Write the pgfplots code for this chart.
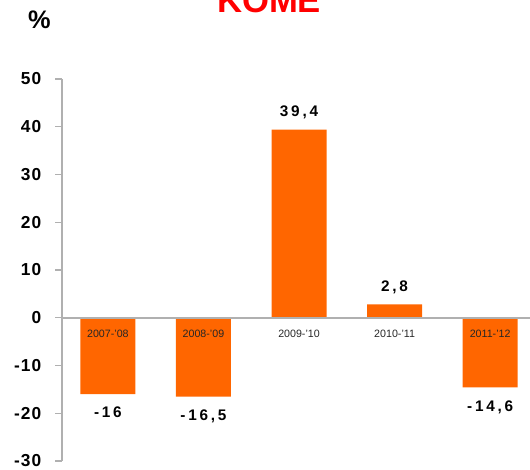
\documentclass[border=0pt]{standalone}
\usepackage{fontspec}
\setmainfont{Liberation Sans}
\newfontfamily\spaced[LetterSpace=18]{Liberation Sans}
\newfontfamily\ticky[LetterSpace=6]{Liberation Sans}
\usepackage{pgfplots}
\usepackage{pgfplotstable}
\pgfplotsset{compat=1.18}
\definecolor{barorange}{HTML}{FF6600}
\definecolor{axisgray}{HTML}{B0B0B0}

% positive and negative bars kept apart so the labels sit above / below
\pgfplotstableread{
x y label
2 39.4 39,4
3 2.8 2,8
}\komeup
\pgfplotstableread{
x y label
0 -16 -16
1 -16.5 -16,5
4 -14.6 -14,6
}\komedown

\begin{document}
\begin{tikzpicture}
\begin{axis}[
    at={(0,0)}, anchor=south west,
    scale only axis,
    width=356.25pt, height=286.5pt,
    xmin=-0.48, xmax=4.49,
    ymin=-30, ymax=50,
    ytick={-30,-20,...,50},
    axis y line*=left,
    axis x line*=middle,
    hide obscured y ticks=false,
    axis line style={axisgray, line width=1.2pt},
    xtick={0,1,2,3,4},
    xticklabels={2007-'08,2008-'09,2009-'10,2010-'11,2011-'12},
    major x tick style={draw=none},
    ytick style={axisgray, line width=1pt},
    tick align=outside,
    major tick length=5pt,
    /pgf/number format/assume math mode=true,
    yticklabel style={font=\ticky\bfseries\fontsize{13}{15}\selectfont, text=black, xshift=-7pt},
    xticklabel style={font=\fontsize{8}{9}\selectfont, text=black!85, yshift=-0.5pt},
    axis on top,
    ybar, bar width=41.25pt, bar shift=0pt,
    point meta=explicit symbolic,
    nodes near coords,
]
\addplot[fill=barorange, draw=none,
    every node near coord/.append style={font=\spaced\bfseries\fontsize{11.5}{13}\selectfont, text=black, anchor=south, inner sep=7.5pt}]
    table[x=x, y=y, meta=label] {\komeup};
\addplot[fill=barorange, draw=none,
    every node near coord/.append style={font=\spaced\bfseries\fontsize{11.5}{13}\selectfont, text=black, anchor=north, inner sep=9.5pt}]
    table[x=x, y=y, meta=label] {\komedown};
\end{axis}
\node[anchor=base, text=red, font=\bfseries\fontsize{26}{30}\selectfont] at (155.25pt,336.2pt) {KOME};
\node[anchor=base, font=\bfseries\fontsize{19}{22}\selectfont] at (-16.9pt,324pt) {\%};
\pgfresetboundingbox
\useasboundingbox (-46.5pt,-6pt) rectangle (351pt,345.75pt);
\end{tikzpicture}
\end{document}
